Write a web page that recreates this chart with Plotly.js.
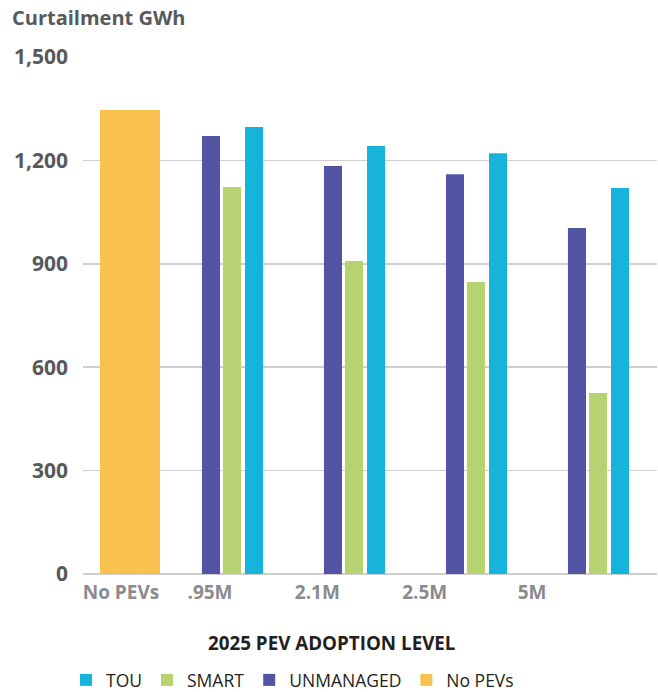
<!DOCTYPE html>
<html>
<head>
<meta charset="utf-8">
<script src="https://cdn.plot.ly/plotly-3.0.1.min.js"></script>
<style>html,body{margin:0;padding:0;background:#fff;}#chart{width:658px;height:692px;}</style>
</head>
<body>
<div id="chart"></div>
<script>
// ---- data ----
const categories = ["No PEVs", ".95M", "2.1M", "2.5M", "5M"];
const noPevs = [1346];
const unmanaged = [1271, 1184, 1160, 1004];
const smart = [1123, 908, 847, 525];
const tou = [1297, 1242, 1221, 1120];
const yTicks = [0, 300, 600, 900, 1200, 1500];

// ---- layout constants ----
const groupIdx = [1, 2, 3, 4];            // category positions for managed groups
const barW = 0.148;
const offU = -0.246, offS = -0.074, offT = 0.107;
const tickPos = [0.09, 0.82, 1.70, 2.58, 3.46];

const colors = {TOU: "#16B4DB", SMART: "#B7D371", UNMANAGED: "#5354A4", NOPEV: "#F9C24F"};
const FONT = "'Open Sans', sans-serif";

const traces = [
  {type: "bar", name: "TOU", x: groupIdx, y: tou, width: barW, offset: offT,
   marker: {color: colors.TOU}, hoverinfo: "y"},
  {type: "bar", name: "SMART", x: groupIdx, y: smart, width: barW, offset: offS,
   marker: {color: colors.SMART}, hoverinfo: "y"},
  {type: "bar", name: "UNMANAGED", x: groupIdx, y: unmanaged, width: barW, offset: offU,
   marker: {color: colors.UNMANAGED}, hoverinfo: "y"},
  {type: "bar", name: "No PEVs", x: [0], y: noPevs, width: 0.492, offset: -0.082,
   marker: {color: colors.NOPEV}, hoverinfo: "y"}
];

const layout = {
  width: 658, height: 692,
  margin: {l: 83, r: 1, t: 57, b: 118},
  paper_bgcolor: "#fff", plot_bgcolor: "#fff",
  barmode: "overlay",
  showlegend: true,
  font: {family: FONT},
  title: {
    text: "Curtailment GWh",
    xref: "container", yref: "container",
    x: 12/658, xanchor: "left",
    y: 1 - 18/692, yanchor: "middle",
    font: {family: FONT, size: 20, weight: 700, color: "#58595B"}
  },
  xaxis: {
    range: [-0.221, 4.484],
    tickmode: "array", tickvals: tickPos, ticktext: categories,
    showgrid: false, zeroline: false, showline: false, ticks: "",
    ticklabelstandoff: 5,
    tickfont: {family: FONT, size: 19, weight: 700, color: "#8A8B8D"},
    fixedrange: true
  },
  yaxis: {
    range: [0, 1500],
    tickmode: "array", tickvals: yTicks,
    tickformat: ",",
    showgrid: true, gridcolor: "#CFCFCF", gridwidth: 1.5,
    zeroline: true, zerolinecolor: "#CFCFCF", zerolinewidth: 1.5,
    showline: false, ticks: "",
    ticklabelstandoff: 14,
    tickfont: {family: FONT, size: 21, weight: 700, color: "#58595B"},
    fixedrange: true
  },
  legend: {
    orientation: "h",
    x: 66/658, xanchor: "left", xref: "container",
    y: 1 - 680/692, yanchor: "middle", yref: "container",
    font: {family: FONT, size: 17.5, color: "#231F20"},
    traceorder: "normal",
    itemclick: false, itemdoubleclick: false
  },
  annotations: [{
    text: "2025 PEV ADOPTION LEVEL",
    xref: "paper", yref: "paper",
    x: (332 - 83) / 574, xanchor: "center",
    y: -(643 - 574) / 517, yanchor: "middle",
    showarrow: false,
    font: {family: FONT, size: 18.8, weight: 700, color: "#231F20"}
  }]
};

Plotly.newPlot("chart", traces, layout, {displayModeBar: false, staticPlot: true});
</script>
</body>
</html>
